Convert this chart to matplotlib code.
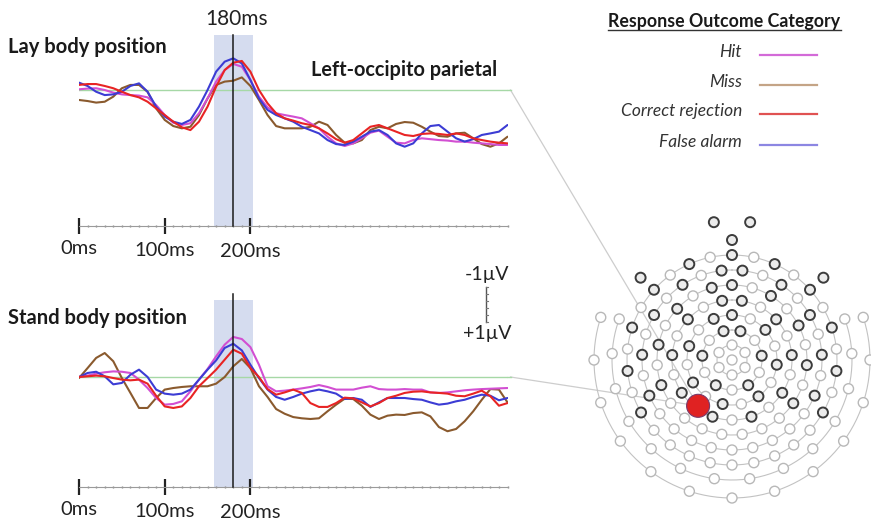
import numpy as np
import matplotlib
matplotlib.use("Agg")
import matplotlib.pyplot as plt
from matplotlib.patches import Circle

plt.rcParams['font.family'] = ['Lato', 'DejaVu Sans']

# ---------------------------------------------------------------- data
time_ms = np.arange(0, 501, 10)

categories = ["Hit", "Miss", "Correct rejection", "False alarm"]
plot_order = ["Miss", "Hit", "False alarm", "Correct rejection"]
colors = {
    "Hit": "#d24fd2",
    "Miss": "#8a5a2e",
    "Correct rejection": "#e82424",
    "False alarm": "#3c3cd4",
}
legend_colors = {
    "Hit": "#d36ad8",
    "Miss": "#c4a486",
    "Correct rejection": "#e05252",
    "False alarm": "#8c86e2",
}

# ERP amplitudes in microvolts (negative plotted upward), 10 ms steps
lay_hit = [-0.04, -0.08, -0.10, 0.00, 0.15, 0.25, 0.29, 0.32, 0.42, 0.86, 1.43,
           1.87, 2.00, 1.90, 1.33, 0.48, -0.48, -1.14, -1.49, -1.33, -0.57,
           0.38, 0.99, 1.33, 1.43, 1.52, 1.62, 1.90, 2.19, 2.67, 3.05,
           3.20, 3.05, 2.76, 2.44, 2.32, 2.67, 3.01, 3.05, 2.86, 2.76,
           2.81, 2.86, 2.89, 2.95, 2.95, 3.01, 3.05, 3.09, 3.14, 3.14]
lay_miss = [0.57, 0.63, 0.72, 0.67, 0.38, -0.10, -0.29, -0.29, 0.10, 1.05, 1.71,
            2.06, 2.19, 2.10, 1.43, 0.48, -0.29, -0.48, -0.53, -0.72, -0.23,
            0.57, 1.43, 2.06, 2.19, 2.19, 2.19, 2.10, 1.81, 2.00, 2.57,
            3.01, 3.05, 2.86, 2.29, 2.10, 2.19, 1.94, 1.83, 1.87, 2.10,
            2.38, 2.63, 2.67, 2.48, 2.44, 2.76, 3.09, 3.24, 3.05, 2.67]
lay_cr = [-0.29, -0.34, -0.34, -0.23, -0.10, 0.10, 0.29, 0.42, 0.67, 1.05, 1.43,
          1.81, 2.13, 2.29, 1.81, 0.95, -0.19, -1.14, -1.56, -1.66, -1.05,
          0.00, 0.76, 1.33, 1.62, 1.75, 1.90, 2.00, 2.19, 2.48, 2.81,
          3.01, 2.86, 2.48, 2.10, 2.00, 2.19, 2.38, 2.57, 2.63, 2.51,
          2.48, 2.51, 2.57, 2.48, 2.57, 2.76, 2.86, 2.95, 3.01, 3.05]
lay_fa = [-0.42, -0.23, 0.10, 0.29, 0.25, 0.10, -0.23, -0.38, 0.10, 0.95, 1.52,
          1.81, 1.94, 1.71, 0.95, 0.00, -1.05, -1.62, -1.81, -1.52, -0.57,
          0.48, 1.14, 1.43, 1.62, 1.81, 2.10, 2.29, 2.48, 2.86, 3.09,
          3.14, 2.95, 2.67, 2.38, 2.29, 2.57, 3.05, 3.24, 3.05, 2.48,
          2.06, 2.00, 2.38, 2.76, 2.95, 2.81, 2.57, 2.48, 2.38, 2.00]

stand_hit = [0.00, -0.08, -0.19, -0.27, -0.32, -0.30, -0.23, 0.15, 0.63, 1.20, 1.58,
             1.54, 1.39, 0.82, 0.15, -0.46, -1.18, -1.85, -2.29, -2.17, -1.71,
             -0.70, 0.53, 0.82, 0.78, 0.72, 0.65, 0.57, 0.46, 0.57, 0.72,
             0.72, 0.72, 0.61, 0.53, 0.69, 0.72, 0.72, 0.69, 0.72, 0.72,
             0.88, 0.91, 0.88, 0.82, 0.76, 0.72, 0.69, 0.67, 0.65, 0.63]
stand_miss = [0.06, -0.51, -1.09, -1.37, -0.90, 0.06, 0.91, 1.77, 1.77, 1.20, 0.72,
              0.63, 0.57, 0.53, 0.53, 0.53, 0.38, 0.00, -0.61, -1.03, -0.51,
              0.53, 1.14, 1.83, 2.10, 2.29, 2.36, 2.40, 2.36, 1.96, 1.58,
              1.24, 1.26, 1.64, 2.15, 2.40, 2.21, 2.15, 2.17, 2.06, 2.02,
              2.25, 2.86, 3.10, 2.97, 2.53, 1.96, 1.30, 0.69, 0.72, 1.45]
stand_cr = [0.00, -0.04, -0.08, -0.04, 0.06, 0.15, 0.19, 0.15, 0.38, 1.07, 1.68,
            1.77, 1.68, 1.20, 0.53, 0.06, -0.42, -0.99, -1.56, -1.33, -0.51,
            0.00, 0.69, 1.01, 0.88, 0.72, 0.91, 1.49, 1.71, 1.71, 1.49,
            1.18, 1.22, 1.45, 1.68, 1.49, 1.20, 1.07, 0.91, 0.84, 0.82,
            0.88, 0.91, 0.95, 1.07, 1.10, 0.95, 0.78, 1.10, 1.64, 1.49]
stand_fa = [0.00, -0.23, -0.30, -0.04, 0.42, 0.34, -0.13, -0.42, 0.00, 0.72, 0.95,
            1.01, 0.95, 0.72, 0.15, -0.42, -0.95, -1.66, -1.90, -1.52, -0.70,
            0.06, 0.72, 1.14, 1.30, 1.14, 0.95, 0.82, 0.72, 0.82, 0.95,
            1.26, 1.20, 1.30, 1.71, 1.45, 1.20, 1.20, 1.20, 1.26, 1.30,
            1.45, 1.58, 1.52, 1.39, 1.30, 1.14, 1.01, 1.07, 1.33, 1.20]

lay_series = {"Hit": lay_hit, "Miss": lay_miss,
              "Correct rejection": lay_cr, "False alarm": lay_fa}
stand_series = {"Hit": stand_hit, "Miss": stand_miss,
                "Correct rejection": stand_cr, "False alarm": stand_fa}

major_ticks = [0, 100, 200]
major_labels = ["0ms", "100ms", "200ms"]
peak_ms = 180
window_ms = (157, 203)
scale_uv = 1.0

# ---------------------------------------------------------------- layout
W, H, DPI = 871, 524, 100
X0_PX = 79.0
PX_PER_MS = 0.857
PX_PER_UV = 17.5
T_END = 500
X1_PX = X0_PX + T_END * PX_PER_MS
LABEL_DROP_PT = [16.5, 17.5, 18.5]   # tick-label offsets below the time axis

fig = plt.figure(figsize=(W / DPI, H / DPI), dpi=DPI)
fig.patch.set_facecolor("white")

overlay = fig.add_axes([0, 0, 1, 1], zorder=0)
overlay.set_xlim(0, W)
overlay.set_ylim(H, 0)
overlay.axis("off")


def px_rect(x0, y0, x1, y1):
    return [x0 / W, 1 - y1 / H, (x1 - x0) / W, (y1 - y0) / H]


def erp_panel(series, baseline_px, top_px, axis_px, line_overshoot_px):
    ax = fig.add_axes(px_rect(X0_PX, top_px, X1_PX, axis_px), zorder=2)
    ax.set_xlim(0, T_END)
    ax.set_ylim((axis_px - baseline_px) / PX_PER_UV,
                (top_px - baseline_px) / PX_PER_UV)
    ax.patch.set_alpha(0)
    for s in ("top", "left", "right"):
        ax.spines[s].set_visible(False)
    ax.spines["bottom"].set_color("#9a9a9a")
    ax.spines["bottom"].set_linewidth(0.8)
    ax.set_yticks([])
    ax.set_xticks(major_ticks)
    ax.set_xticks(np.arange(0, T_END + 1, 10), minor=True)
    ax.tick_params(axis="x", which="major", direction="inout", length=12,
                   width=1.6, color="#222222", labelbottom=False)
    ax.tick_params(axis="x", which="minor", direction="inout", length=1.6,
                   width=1.0, color="#8a8a8a")
    for t, lab, drop in zip(major_ticks, major_labels, LABEL_DROP_PT):
        ax.annotate(lab, xy=(t, 0), xycoords=("data", "axes fraction"),
                    xytext=(0, -drop), textcoords="offset points",
                    ha="center", va="center", fontsize=14.5,
                    color="#222222", annotation_clip=False)
    ax.axvspan(*window_ms, color="#d5dcef", lw=0, zorder=0)
    ax.axhline(0, color="#a6d8a6", lw=1.0, zorder=1)
    for cat in plot_order:
        ax.plot(time_ms, series[cat], color=colors[cat], lw=1.5, zorder=3,
                solid_joinstyle="round", solid_capstyle="round")
    h = axis_px - top_px
    ax.axvline(peak_ms, ymin=0, ymax=1 + line_overshoot_px / h,
               color="#1a1a1a", lw=1.1, zorder=4, clip_on=False)
    return ax


LAY_BASE, STAND_BASE = 90.0, 377.0
ax_lay = erp_panel(lay_series, LAY_BASE, 35.0, 226.0, 0.0)
ax_stand = erp_panel(stand_series, STAND_BASE, 300.0, 487.0, 6.0)

# voltage scale bar (negative up), drawn in the standing panel's units
bar_t = 475
bar_mid = -4.14
bar_top, bar_bot = bar_mid - scale_uv, bar_mid + scale_uv
ax_stand.plot([bar_t, bar_t], [bar_top, bar_bot], color="#555555", lw=1.0,
              clip_on=False)
for v in np.linspace(bar_top, bar_bot, 6):
    ax_stand.plot([bar_t, bar_t + 2.5], [v, v], color="#777777", lw=0.8,
                  clip_on=False)
ax_stand.annotate("-1\u00b5V", xy=(bar_t, bar_top), xytext=(1, 3),
                  textcoords="offset points", ha="center", va="bottom",
                  fontsize=14, color="#222222", annotation_clip=False)
ax_stand.annotate("+1\u00b5V", xy=(bar_t, bar_bot), xytext=(1, -2),
                  textcoords="offset points", ha="center", va="top",
                  fontsize=14, color="#222222", annotation_clip=False)

# panel titles
overlay.text(237, 19, f"{peak_ms}ms", ha="center", va="center", fontsize=15,
             color="#222222")
overlay.text(8, 47, "Lay body position", ha="left", va="center",
             fontsize=14.5, fontweight="bold", color="#1a1a1a")
overlay.text(8, 318, "Stand body position", ha="left", va="center",
             fontsize=14.5, fontweight="bold", color="#1a1a1a")
overlay.text(311, 70, "Left-occipito parietal", ha="left", va="center",
             fontsize=14.3, fontweight="bold", color="#1a1a1a")

# ---------------------------------------------------------------- legend
title = overlay.text(724.5, 21, "Response Outcome Category", ha="center",
                     va="center", fontsize=12.8, fontweight="bold",
                     color="#1a1a1a")
legend_y = [52, 82, 111, 142]
for cat, y in zip(categories, legend_y):
    overlay.text(742, y, cat, ha="right", va="center", fontsize=12.5,
                 style="italic", color="#333333")
    overlay.plot([760, 817], [y + 3, y + 3], color=legend_colors[cat], lw=1.6)

# underline the legend heading along its rendered width
fig.canvas.draw()
bb = title.get_window_extent().transformed(overlay.transData.inverted())
overlay.plot([bb.x0, bb.x1], [30, 30], color="#333333", lw=1.0)

# ---------------------------------------------------------------- sensor map
HEAD_C = (732.0, 360.0)
ring_radius = [15, 30, 45, 60, 75, 90, 105, 120, 138]
ring_count = [6, 11, 15, 19, 23, 27, 30, 14, 13]
ring_span = [None] * 7 + [(70, 290), (72, 288)]
face_sensors = [(120, 0), (139, -7.5), (139, 7.5), (123, -48), (123, 48)]
ELECTRODE_R = 5.0
roi_sensor = (57, 216.5)


def polar(r, theta_deg):
    th = np.deg2rad(theta_deg)
    return HEAD_C[0] + r * np.sin(th), HEAD_C[1] - r * np.cos(th)


def draw_sensor(x, y, dark):
    if dark:
        overlay.add_patch(Circle((x, y), ELECTRODE_R, facecolor="#ececec",
                                 edgecolor="#3c3c3c", lw=1.4, zorder=4))
    else:
        overlay.add_patch(Circle((x, y), ELECTRODE_R, facecolor="white",
                                 edgecolor="#b8b8b8", lw=1.0, zorder=4))


rx, ry = polar(*roi_sensor)

# connectors from each panel's baseline to the selected sensor
for base in (LAY_BASE, STAND_BASE):
    overlay.plot([X1_PX, X1_PX + 3], [base, base], color="#a6d8a6", lw=1.0)
    overlay.plot([X1_PX + 3, rx], [base, ry], color="#cdcdcd", lw=0.9,
                 zorder=1)

draw_sensor(*HEAD_C, False)
for k, (r, n, span) in enumerate(zip(ring_radius, ring_count, ring_span)):
    if span is None:
        arc = np.linspace(0, 360, 200)
        thetas = (np.arange(n) + 0.5 * (k % 2)) * 360.0 / n
    else:
        arc = np.linspace(span[0], span[1], 160)
        thetas = np.linspace(span[0], span[1], n)
    ax_, ay_ = polar(r, arc)
    overlay.plot(ax_, ay_, color="#c2c2c2", lw=0.8, zorder=2)
    for i, th in enumerate(thetas):
        lower = 130 < (th % 360) < 230
        dark = 1 <= k <= 6 and i % 2 == 0 and not (lower and k >= 4)
        draw_sensor(*polar(r, th), dark)

for r, th in face_sensors:
    draw_sensor(*polar(r, th), True)

overlay.add_patch(Circle((rx, ry), 11.5, facecolor="#e02222",
                         edgecolor="#7a3a6a", lw=0.8, zorder=6))

fig.savefig("out.png", dpi=DPI, facecolor="white")
